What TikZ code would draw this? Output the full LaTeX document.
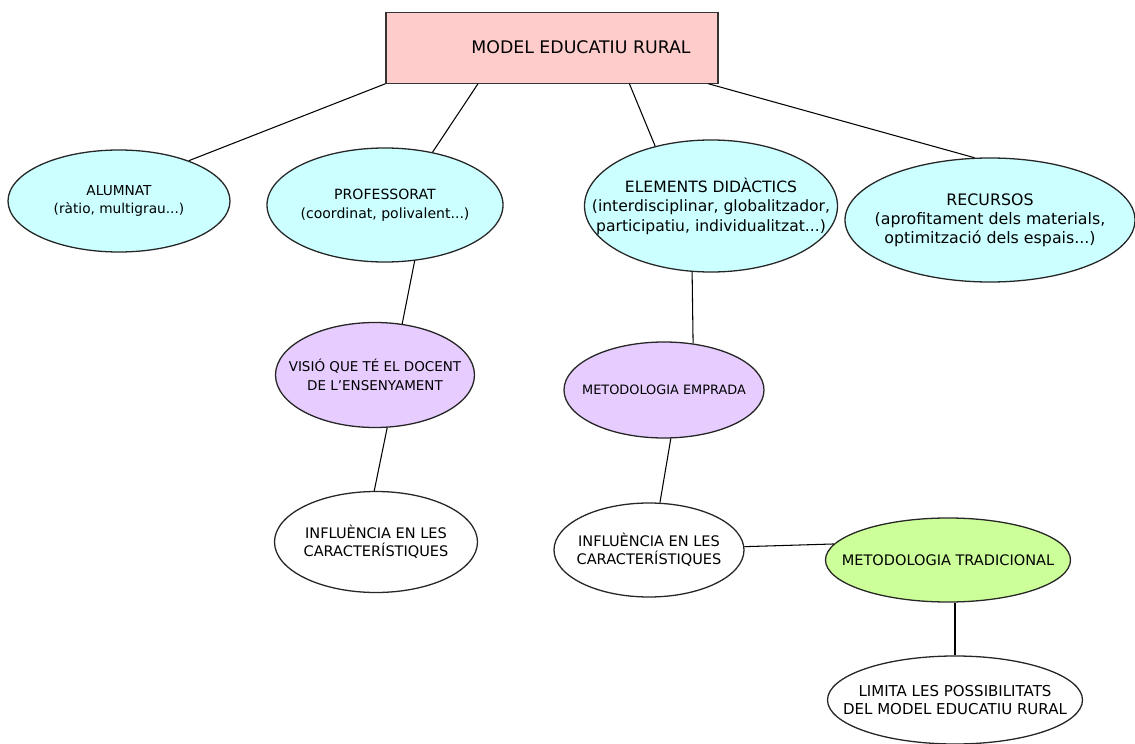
\documentclass[tikz,border=0pt]{standalone}
\usepackage{fontspec}
\setmainfont{DejaVu Sans}
\usetikzlibrary{shapes}

\definecolor{rootpink}{RGB}{255,204,204}
\definecolor{cyanfill}{RGB}{204,255,255}
\definecolor{lilac}{RGB}{230,204,255}
\definecolor{limefill}{RGB}{204,255,153}

\begin{document}
\begin{tikzpicture}[
    rootbox/.style={rectangle, draw=black!80, line width=1pt, fill=rootpink, minimum width=9.96cm, minimum height=2.13cm, font=\fontsize{14.8}{18}\selectfont},
    bubble/.style={ellipse, draw=black!85, line width=1.1pt, inner xsep=-32pt, inner ysep=0pt, align=center, font=\fontsize{11}{15}\selectfont},
    topbubble/.style={bubble, fill=cyanfill},
    midbubble/.style={bubble, fill=lilac},
    lowbubble/.style={bubble, fill=white, font=\fontsize{12.4}{15.5}\selectfont},
    link/.style={line width=0.9pt}
]
\useasboundingbox (0,0) rectangle (34.05,-22.32);

% Root
\node[rootbox] (root) at (16.56,-1.43) {\hspace*{1.74cm}MODEL EDUCATIU RURAL};

% First level
\node[topbubble, minimum width=6.66cm, minimum height=3.06cm, font=\fontsize{11.7}{16}\selectfont] (alumnat) at (3.57,-6.03) {ALUMNAT\\(ràtio, multigrau...)};
\node[topbubble, minimum width=7.08cm, minimum height=3.42cm, font=\fontsize{12}{16.5}\selectfont] (prof) at (11.55,-6.15) {PROFESSORAT\\(coordinat, polivalent...)};
\node[topbubble, minimum width=7.59cm, minimum height=3.96cm, font=\fontsize{13.3}{16.6}\selectfont] (elements) at (21.33,-6.18) {ELEMENTS DIDÀCTICS\\(interdisciplinar, globalitzador,\\participatiu, individualitzat...)};
\node[topbubble, minimum width=8.7cm, minimum height=3.72cm, font=\fontsize{13.5}{16.4}\selectfont] (recursos) at (29.7,-6.6) {RECURSOS\\(aprofitament dels materials,\\optimització dels espais...)};

% Second level
\node[midbubble, minimum width=5.97cm, minimum height=3.15cm, font=\fontsize{11.5}{16}\selectfont] (visio) at (11.25,-11.25) {VISIÓ QUE TÉ EL DOCENT\\DE L'ENSENYAMENT};
\node[midbubble, minimum width=6.0cm, minimum height=2.88cm, font=\fontsize{11}{14}\selectfont] (emprada) at (19.92,-11.7) {METODOLOGIA EMPRADA};

% Third level
\node[lowbubble, minimum width=6.09cm, minimum height=3.03cm] (infl1) at (11.28,-16.26) {INFLUÈNCIA EN LES\\CARACTERÍSTIQUES};
\node[lowbubble, minimum width=5.7cm, minimum height=2.82cm] (infl2) at (19.47,-16.5) {INFLUÈNCIA EN LES\\CARACTERÍSTIQUES};
\node[lowbubble, fill=limefill, minimum width=7.35cm, minimum height=2.52cm] (trad) at (28.44,-16.8) {METODOLOGIA TRADICIONAL};
\node[lowbubble, minimum width=7.65cm, minimum height=2.64cm, font=\fontsize{12.8}{16}\selectfont] (limita) at (28.65,-21.0) {LIMITA LES POSSIBILITATS\\DEL MODEL EDUCATIU RURAL};

% Links
\draw[link] (root.south west) -- (alumnat.30);
\draw[link] (root.206) -- (prof.48);
\draw[link] (root.335) -- (elements.133);
\draw[link] (root.347) -- (recursos.104);
\draw[link] (prof.298) -- (visio.62);
\draw[link] (elements.254) -- (emprada.58);
\draw[link] (visio.283) -- (infl1.92);
\draw[link] (emprada.278) -- (infl2.77);
\draw[link] (infl2.2) -- (trad.172);
\draw[link] (limita.north) -- (limita.north |- trad.south);

\end{tikzpicture}
\end{document}
